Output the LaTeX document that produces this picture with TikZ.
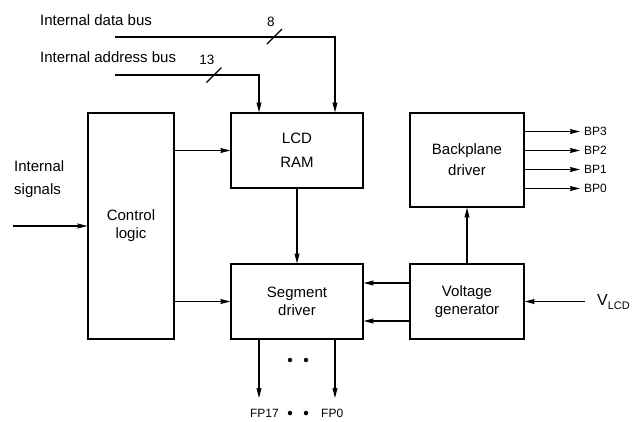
\documentclass[tikz,border=0pt]{standalone}
\usepackage{fontspec}
\setmainfont{Liberation Sans}
\setsansfont{Liberation Sans}
\usetikzlibrary{positioning, arrows.meta}

\begin{document}
\begin{tikzpicture}[
    x=1pt, y=-1pt,
    >={Stealth[length=10pt, width=5pt, inset=1pt]},
    every node/.style={font=\sffamily\fontsize{15}{18}\selectfont},
    block/.style={draw, line width=1.2pt, align=center, inner sep=0pt},
    arrow/.style={->, line width=1.1pt},
    wire/.style={line width=1.1pt},
    pinlabel/.style={font=\sffamily\fontsize{12}{14}\selectfont, inner sep=0pt},
    buslabel/.style={font=\sffamily\fontsize{13.5}{15}\selectfont, inner sep=0pt},
    bigdot/.style={circle, fill, inner sep=0pt, minimum size=4.5pt},
]
\useasboundingbox (0,0) rectangle (635,421);
\node[block, minimum width=86pt, minimum height=226pt] (ctrl) at (131,226) {Control\\logic};
\node[block, minimum width=132pt, minimum height=75pt] (ram) at (297,150.5) {LCD\\[6pt]RAM};
\node[block, minimum width=132pt, minimum height=75pt] (seg) at (297,301.5) {Segment\\driver};
\node[block, minimum width=114pt, minimum height=94pt] (bp) at (467,160) {Backplane\\[3pt]driver};
\node[block, minimum width=114pt, minimum height=75pt] (volt) at (467,301.5) {Voltage\\generator};
\node[anchor=west, inner sep=0pt] (dbus_lbl) at (40,20) {Internal data bus};
\node[anchor=west, inner sep=0pt] (abus_lbl) at (40,57) {Internal address bus};
\node[anchor=west, inner sep=0pt, align=left] (sig_lbl) at (14,179.5) {Internal\\[5pt]signals};
\node[buslabel] (dbus_w) at (271,22) {8};
\node[buslabel] (abus_w) at (207,60) {13};
\node[anchor=west, inner sep=0pt] (vlcd) at (597,302) {\fontsize{16}{16}\selectfont V\raisebox{-3.5pt}{\fontsize{11}{11}\selectfont LCD}};
\node[pinlabel, anchor=west] (bp3) at (584,131.5) {BP3};
\node[pinlabel, anchor=west] (bp2) at (584,150.5) {BP2};
\node[pinlabel, anchor=west] (bp1) at (584,169.5) {BP1};
\node[pinlabel, anchor=west] (bp0) at (584,188.5) {BP0};
\node[pinlabel, anchor=east] (fp17) at (279,413) {FP17};
\node[pinlabel, anchor=west] (fp0) at (321,413) {FP0};
\node[bigdot] (gap_l) at (290,360) {};
\node[bigdot] (gap_r) at (306,360) {};
\node[bigdot] (lbl_l) at (290,413) {};
\node[bigdot] (lbl_r) at (306,413) {};
\coordinate (dbus) at (115,37);
\coordinate (abus) at (115,75);
\coordinate (sig_in) at (13,226);
\coordinate (fp17_end) at (259,398);
\coordinate (fp0_end) at (335,398);
\draw[arrow] (dbus) -| ([xshift=38pt]ram.north);
\draw[arrow] (abus) -| ([xshift=-38pt]ram.north);
\draw[wire] (274.5,36.5) ++(-7.5,7.5) -- ++(15,-15);
\draw[wire] (214,75) ++(-7.5,7.5) -- ++(15,-15);
\draw[arrow] (sig_in) -- (ctrl.west);
\draw[arrow] (ctrl.east |- ram.west) -- (ram.west);
\draw[arrow] (ctrl.east |- seg.west) -- (seg.west);
\draw[arrow] (ram.south) -- (seg.north);
\draw[arrow] ([yshift=18.5pt]volt.west) -- ([yshift=18.5pt]seg.east);
\draw[arrow] ([yshift=-19.5pt]volt.west) -- ([yshift=-19.5pt]seg.east);
\draw[arrow] (volt.north) -- (bp.south);
\draw[arrow, shorten <=12pt] (vlcd.west |- volt.east) -- (volt.east);
\draw[arrow, shorten >=4pt] (bp.east |- bp3.west) -- (bp3.west);
\draw[arrow, shorten >=4pt] (bp.east |- bp2.west) -- (bp2.west);
\draw[arrow, shorten >=4pt] (bp.east |- bp1.west) -- (bp1.west);
\draw[arrow, shorten >=4pt] (bp.east |- bp0.west) -- (bp0.west);
\draw[arrow] (seg.south -| fp17_end) -- (fp17_end);
\draw[arrow] (seg.south -| fp0_end) -- (fp0_end);
\end{tikzpicture}
\end{document}
